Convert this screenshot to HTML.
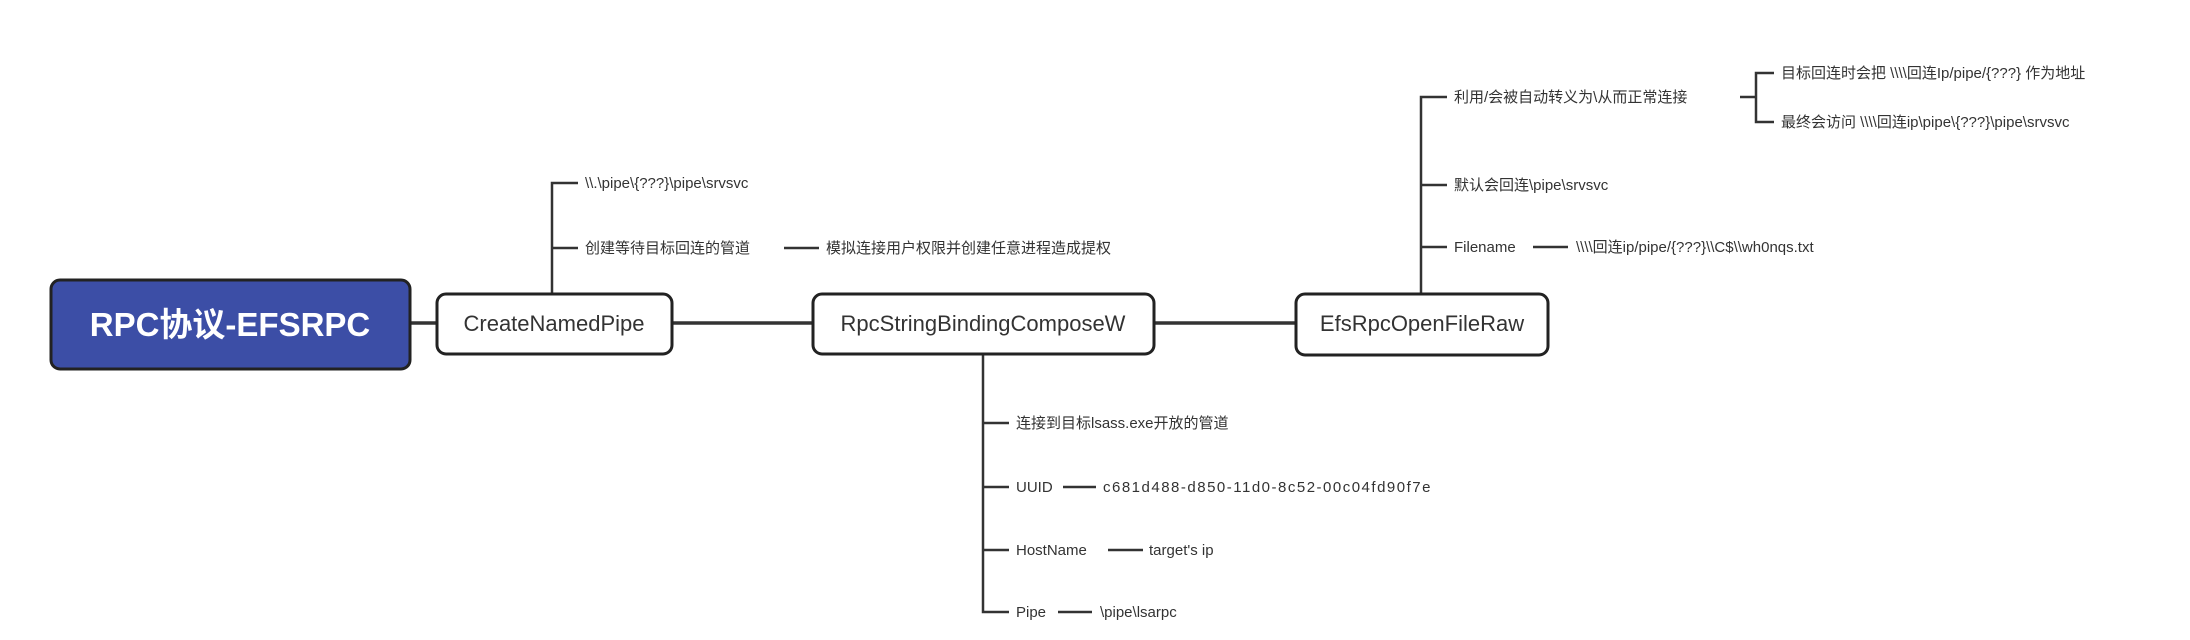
<!DOCTYPE html>
<html><head><meta charset="utf-8"><style>
html,body{margin:0;padding:0;background:#fff;}
svg{display:block;}
text{font-family:"Liberation Sans","Noto Sans CJK SC",sans-serif;fill:#333;}
.s{font-size:15px;}
.n{font-size:22px;}
</style></head><body>
<svg width="2190" height="640" viewBox="0 0 2190 640" xmlns="http://www.w3.org/2000/svg">
<g stroke="#333" fill="none">
  <line x1="411" y1="323" x2="437" y2="323" stroke-width="3.5"/>
  <line x1="672" y1="323" x2="813" y2="323" stroke-width="3.5"/>
  <line x1="1154" y1="323" x2="1296" y2="323" stroke-width="3.5"/>
  <path d="M552 293 V183 H578" stroke-width="2.5"/>
  <line x1="552" y1="248" x2="578" y2="248" stroke-width="2.5"/>
  <line x1="784" y1="248" x2="819" y2="248" stroke-width="2.5"/>
  <path d="M983 355 V612 H1009" stroke-width="2.5"/>
  <line x1="983" y1="423" x2="1009" y2="423" stroke-width="2.5"/>
  <line x1="983" y1="487" x2="1009" y2="487" stroke-width="2.5"/>
  <line x1="983" y1="550" x2="1009" y2="550" stroke-width="2.5"/>
  <line x1="1063" y1="487" x2="1096" y2="487" stroke-width="2.5"/>
  <line x1="1108" y1="550" x2="1143" y2="550" stroke-width="2.5"/>
  <line x1="1058" y1="612" x2="1092" y2="612" stroke-width="2.5"/>
  <path d="M1421 293 V97 H1447" stroke-width="2.5"/>
  <line x1="1421" y1="185" x2="1447" y2="185" stroke-width="2.5"/>
  <line x1="1421" y1="247" x2="1447" y2="247" stroke-width="2.5"/>
  <line x1="1533" y1="247" x2="1568" y2="247" stroke-width="2.5"/>
  <line x1="1740" y1="97" x2="1756" y2="97" stroke-width="2.5"/>
  <path d="M1774 73 H1756 V122 H1774" stroke-width="2.5"/>
</g>
<rect x="51" y="280" width="359" height="89" rx="9" fill="#3c4ea6" stroke="#222" stroke-width="3"/>
<text x="230" y="336" text-anchor="middle" style="font-size:33px;font-weight:bold;fill:#fff">RPC协议-EFSRPC</text>
<rect x="437" y="294" width="235" height="60" rx="9" fill="#fff" stroke="#222" stroke-width="3"/>
<text x="554" y="331" text-anchor="middle" class="n">CreateNamedPipe</text>
<rect x="813" y="294" width="341" height="60" rx="9" fill="#fff" stroke="#222" stroke-width="3"/>
<text x="983" y="331" text-anchor="middle" class="n">RpcStringBindingComposeW</text>
<rect x="1296" y="294" width="252" height="61" rx="9" fill="#fff" stroke="#222" stroke-width="3"/>
<text x="1422" y="331" text-anchor="middle" class="n">EfsRpcOpenFileRaw</text>
<text x="585" y="188" class="s">\\.\pipe\{???}\pipe\srvsvc</text>
<text x="585" y="253" class="s">创建等待目标回连的管道</text>
<text x="826" y="253" class="s">模拟连接用户权限并创建任意进程造成提权</text>
<text x="1016" y="428" class="s">连接到目标lsass.exe开放的管道</text>
<text x="1016" y="492" class="s">UUID</text>
<text x="1103" y="492" class="s" style="letter-spacing:1.5px">c681d488-d850-11d0-8c52-00c04fd90f7e</text>
<text x="1016" y="555" class="s">HostName</text>
<text x="1149" y="555" class="s">target's ip</text>
<text x="1016" y="617" class="s">Pipe</text>
<text x="1100" y="617" class="s">\pipe\lsarpc</text>
<text x="1454" y="102" class="s">利用/会被自动转义为\从而正常连接</text>
<text x="1781" y="78" class="s">目标回连时会把  \\\\回连Ip/pipe/{???}  作为地址</text>
<text x="1781" y="127" class="s">最终会访问  \\\\回连ip\pipe\{???}\pipe\srvsvc</text>
<text x="1454" y="190" class="s">默认会回连\pipe\srvsvc</text>
<text x="1454" y="252" class="s">Filename</text>
<text x="1576" y="252" class="s">\\\\回连ip/pipe/{???}\\C$\\wh0nqs.txt</text>
</svg>
</body></html>
